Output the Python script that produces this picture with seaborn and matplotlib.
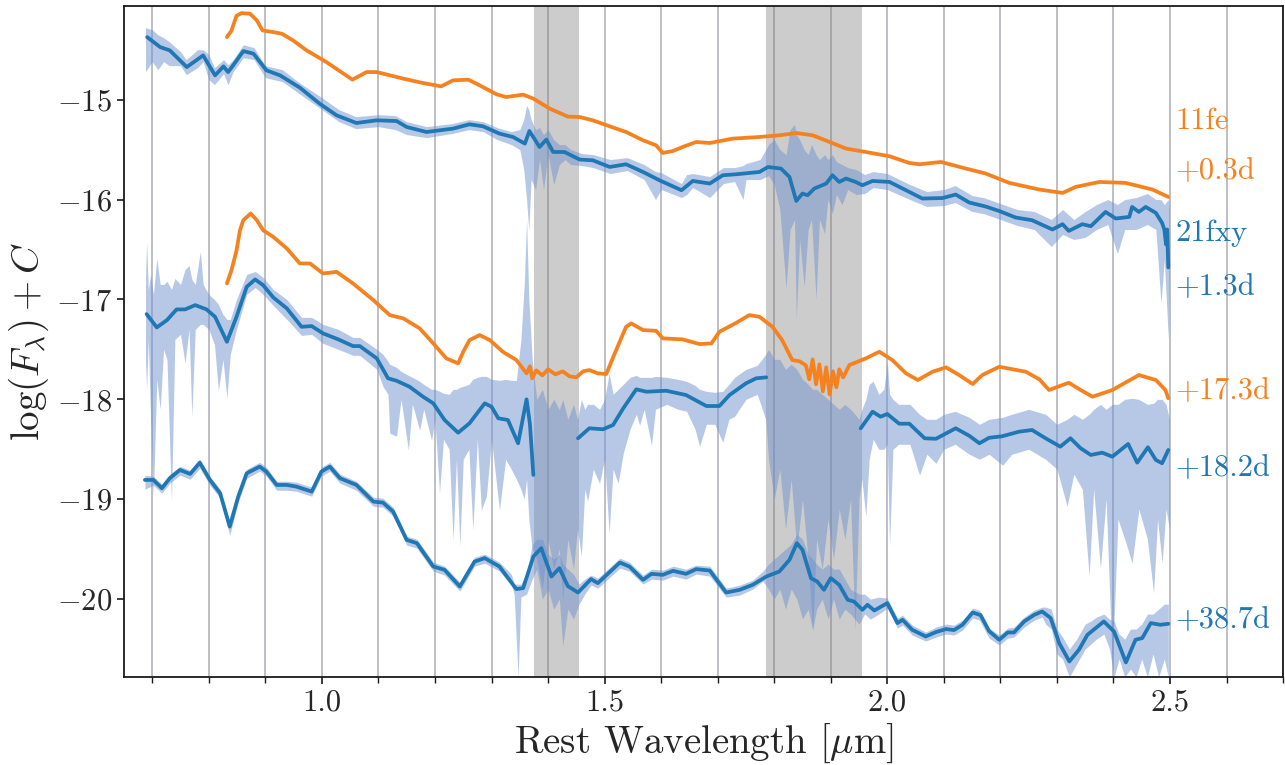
import numpy as np
import pandas as pd
import matplotlib
matplotlib.use("Agg")
import matplotlib.pyplot as plt
from matplotlib.ticker import MultipleLocator
import seaborn as sns

# ---------------- data ----------------
# 11fe +0.3d (orange, top): (wavelength [um], log flux + C)
fe_early = [(0.832,-14.374),(0.840,-14.31),(0.849,-14.16),(0.858,-14.134),(0.873,-14.14),(0.885,-14.207),
            (0.895,-14.307),(0.914,-14.324),(0.929,-14.34),(0.949,-14.407),(0.973,-14.507),(1.008,-14.624),
            (1.054,-14.80),(1.079,-14.724),(1.097,-14.724),(1.144,-14.79),(1.179,-14.834),(1.211,-14.867),
            (1.232,-14.807),(1.259,-14.80),(1.279,-14.857),(1.309,-14.947),(1.326,-14.974),(1.356,-14.95),
            (1.374,-14.99),(1.403,-15.09),(1.435,-15.17),(1.456,-15.174),(1.479,-15.207),(1.509,-15.267),
            (1.538,-15.324),(1.568,-15.407),(1.591,-15.457),(1.603,-15.534),(1.621,-15.514),(1.638,-15.474),
            (1.662,-15.424),(1.686,-15.434),(1.727,-15.39),(1.774,-15.374),(1.809,-15.357),(1.839,-15.334),
            (1.868,-15.357),(1.898,-15.424),(1.927,-15.49),(1.962,-15.524),(2.004,-15.567),(2.039,-15.634),
            (2.057,-15.647),(2.095,-15.624),(2.139,-15.69),(2.174,-15.74),(2.216,-15.834),(2.269,-15.90),
            (2.310,-15.934),(2.333,-15.874),(2.375,-15.824),(2.422,-15.834),(2.469,-15.90),(2.497,-15.974)]

# 11fe +17.3d (orange, middle)
fe_late = [(0.832,-16.84),(0.840,-16.71),(0.849,-16.51),(0.855,-16.31),(0.861,-16.207),(0.874,-16.14),
           (0.885,-16.207),(0.896,-16.307),(0.914,-16.374),(0.938,-16.49),(0.961,-16.64),(0.979,-16.64),
           (1.002,-16.74),(1.026,-16.724),(1.055,-16.84),(1.091,-17.007),(1.120,-17.157),(1.144,-17.19),
           (1.173,-17.29),(1.197,-17.44),(1.220,-17.59),(1.241,-17.64),(1.250,-17.524),(1.261,-17.407),
           (1.279,-17.357),(1.297,-17.407),(1.320,-17.524),(1.344,-17.607),(1.362,-17.74),(1.368,-17.67),
           (1.372,-17.79),(1.379,-17.71),(1.390,-17.76),(1.400,-17.70),(1.413,-17.75),(1.426,-17.72),
           (1.438,-17.77),(1.450,-17.78),(1.462,-17.72),(1.473,-17.707),(1.488,-17.74),(1.503,-17.747),
           (1.518,-17.54),(1.538,-17.274),(1.547,-17.24),(1.568,-17.307),(1.591,-17.314),(1.603,-17.39),
           (1.638,-17.40),(1.668,-17.447),(1.689,-17.44),(1.703,-17.324),(1.733,-17.234),(1.756,-17.157),
           (1.774,-17.174),(1.797,-17.274),(1.814,-17.407),(1.832,-17.607),(1.845,-17.62),(1.856,-17.66),
           (1.862,-17.80),(1.868,-17.60),(1.874,-17.85),(1.880,-17.65),(1.886,-17.92),(1.892,-17.68),
           (1.898,-17.95),(1.904,-17.72),(1.910,-17.88),(1.915,-17.70),(1.922,-17.78),(1.933,-17.657),
           (1.962,-17.59),(1.986,-17.524),(2.009,-17.607),(2.033,-17.74),(2.054,-17.807),(2.080,-17.724),
           (2.104,-17.68),(2.127,-17.757),(2.151,-17.847),(2.168,-17.757),(2.198,-17.674),(2.245,-17.724),
           (2.269,-17.80),(2.286,-17.907),(2.321,-17.834),(2.342,-17.907),(2.363,-17.974),(2.398,-17.907),
           (2.445,-17.757),(2.475,-17.807),(2.492,-17.907),(2.497,-17.99)]

# 21fxy +1.3d smoothed (dark blue, top)
fxy_1 = [(0.691,-14.374),(0.714,-14.474),(0.731,-14.507),(0.761,-14.674),(0.790,-14.557),(0.811,-14.757),
         (0.826,-14.667),(0.834,-14.724),(0.843,-14.657),(0.861,-14.514),(0.879,-14.54),(0.902,-14.707),
         (0.926,-14.757),(0.961,-14.88),(0.996,-15.04),(1.026,-15.157),(1.061,-15.234),(1.097,-15.207),
         (1.132,-15.214),(1.150,-15.274),(1.185,-15.324),(1.232,-15.29),(1.261,-15.247),(1.285,-15.267),
         (1.314,-15.34),(1.338,-15.374),(1.359,-15.44),(1.367,-15.314),(1.385,-15.474),(1.397,-15.40),
         (1.409,-15.524),(1.429,-15.524),(1.456,-15.60),(1.479,-15.607),(1.509,-15.674),(1.538,-15.647),
         (1.568,-15.724),(1.597,-15.807),(1.636,-15.907),(1.656,-15.814),(1.686,-15.84),(1.709,-15.757),
         (1.733,-15.747),(1.774,-15.724),(1.789,-15.674),(1.812,-15.69),(1.827,-15.774),(1.839,-16.014),
         (1.850,-15.94),(1.859,-15.957),(1.871,-15.89),(1.892,-15.84),(1.903,-15.757),(1.915,-15.824),
         (1.927,-15.79),(1.944,-15.824),(1.956,-15.857),(1.974,-15.814),(2.004,-15.824),(2.039,-15.924),
         (2.062,-15.99),(2.098,-15.985),(2.121,-15.95),(2.145,-16.03),(2.174,-16.07),(2.198,-16.115),
         (2.227,-16.18),(2.256,-16.207),(2.292,-16.30),(2.310,-16.247),(2.321,-16.314),(2.345,-16.247),
         (2.360,-16.267),(2.386,-16.124),(2.404,-16.19),(2.428,-16.174),(2.433,-16.074),(2.445,-16.124),
         (2.457,-16.074),(2.475,-16.134),(2.486,-16.234),(2.490,-16.30),(2.493,-16.45),(2.495,-16.30),
         (2.497,-16.68)]

# 21fxy +18.2d smoothed (three pieces, gaps in the telluric bands)
fxy_18_a = [(0.690,-17.147),(0.708,-17.28),(0.726,-17.207),(0.743,-17.10),(0.758,-17.10),(0.776,-17.057),
            (0.796,-17.10),(0.811,-17.174),(0.832,-17.424),(0.849,-17.174),(0.867,-16.874),(0.882,-16.80),
            (0.896,-16.857),(0.914,-16.98),(0.938,-17.09),(0.964,-17.274),(0.982,-17.267),(1.002,-17.34),
            (1.029,-17.40),(1.055,-17.467),(1.067,-17.467),(1.097,-17.59),(1.117,-17.79),(1.132,-17.814),
            (1.155,-17.874),(1.179,-17.974),(1.197,-18.04),(1.217,-18.207),(1.241,-18.334),(1.261,-18.24),
            (1.288,-18.04),(1.300,-18.074),(1.312,-18.19),(1.329,-18.207),(1.347,-18.44),(1.362,-18.0),
            (1.368,-18.25),(1.374,-18.757)]
fxy_18_b = [(1.453,-18.39),(1.473,-18.29),(1.497,-18.30),(1.515,-18.257),(1.533,-18.09),(1.556,-17.90),
            (1.574,-17.924),(1.609,-17.914),(1.644,-17.957),(1.680,-18.067),(1.703,-18.067),(1.721,-17.957),
            (1.750,-17.84),(1.768,-17.79),(1.786,-17.78)]
fxy_18_c = [(1.953,-18.29),(1.974,-18.124),(1.988,-18.174),(2.000,-18.147),(2.021,-18.244),(2.039,-18.244),
            (2.066,-18.39),(2.086,-18.395),(2.121,-18.29),(2.145,-18.365),(2.163,-18.44),(2.180,-18.385),
            (2.203,-18.37),(2.233,-18.324),(2.256,-18.307),(2.280,-18.39),(2.306,-18.474),(2.324,-18.39),
            (2.342,-18.49),(2.360,-18.557),(2.380,-18.534),(2.398,-18.574),(2.426,-18.447),(2.442,-18.634),
            (2.461,-18.48),(2.475,-18.607),(2.486,-18.64),(2.497,-18.507)]

# 21fxy +38.7d smoothed
fxy_38 = [(0.687,-18.807),(0.702,-18.807),(0.717,-18.89),(0.731,-18.79),(0.749,-18.707),(0.767,-18.747),
          (0.784,-18.634),(0.802,-18.807),(0.820,-18.94),(0.837,-19.274),(0.852,-18.974),(0.867,-18.74),
          (0.890,-18.674),(0.902,-18.724),(0.920,-18.857),(0.938,-18.857),(0.955,-18.874),(0.982,-18.924),
          (0.999,-18.724),(1.014,-18.674),(1.032,-18.79),(1.061,-18.857),(1.091,-19.024),(1.108,-19.034),
          (1.126,-19.124),(1.150,-19.407),(1.168,-19.44),(1.197,-19.674),(1.217,-19.707),(1.244,-19.874),
          (1.270,-19.624),(1.288,-19.59),(1.314,-19.674),(1.344,-19.90),(1.356,-19.89),(1.374,-19.574),
          (1.388,-19.49),(1.406,-19.774),(1.420,-19.69),(1.435,-19.87),(1.453,-19.934),(1.476,-19.80),
          (1.488,-19.84),(1.527,-19.634),(1.544,-19.674),(1.568,-19.807),(1.583,-19.747),(1.603,-19.757),
          (1.621,-19.717),(1.644,-19.747),(1.662,-19.70),(1.686,-19.714),(1.715,-19.934),(1.739,-19.907),
          (1.762,-19.857),(1.786,-19.774),(1.809,-19.724),(1.827,-19.607),(1.840,-19.44),(1.850,-19.507),
          (1.865,-19.79),(1.876,-19.824),(1.888,-19.907),(1.900,-19.79),(1.915,-19.857),(1.930,-20.007),
          (1.941,-20.024),(1.956,-20.107),(1.965,-20.057),(1.977,-20.114),(2.000,-20.04),(2.018,-20.24),
          (2.027,-20.207),(2.044,-20.307),(2.068,-20.374),(2.086,-20.33),(2.104,-20.30),(2.118,-20.31),
          (2.133,-20.257),(2.151,-20.134),(2.165,-20.16),(2.180,-20.32),(2.198,-20.407),(2.213,-20.334),
          (2.224,-20.334),(2.242,-20.224),(2.260,-20.157),(2.274,-20.124),(2.289,-20.19),(2.304,-20.44),
          (2.322,-20.624),(2.339,-20.507),(2.354,-20.357),(2.383,-20.224),(2.401,-20.324),(2.422,-20.634),
          (2.439,-20.407),(2.451,-20.39),(2.466,-20.24),(2.483,-20.257),(2.497,-20.247)]

# raw-spectrum envelopes (wavelength, lower, upper)
raw_1 = [(0.688,-14.72,-14.28),(0.70,-14.62,-14.30),(0.71,-14.70,-14.35),(0.72,-14.62,-14.38),
         (0.73,-14.66,-14.42),(0.75,-14.66,-14.52),(0.76,-14.75,-14.60),(0.78,-14.68,-14.50),
         (0.79,-14.62,-14.50),(0.80,-14.80,-14.55),(0.81,-14.85,-14.68),(0.826,-14.74,-14.60),
         (0.834,-14.85,-14.65),(0.843,-14.72,-14.60),(0.861,-14.58,-14.45),(0.88,-14.60,-14.48),
         (0.90,-14.78,-14.66),(0.93,-14.82,-14.70),(0.96,-14.94,-14.83),(1.00,-15.10,-14.98),
         (1.03,-15.22,-15.10),(1.06,-15.29,-15.17),(1.10,-15.27,-15.15),(1.13,-15.30,-15.16),
         (1.15,-15.35,-15.22),(1.185,-15.38,-15.27),(1.23,-15.34,-15.24),(1.26,-15.30,-15.20),
         (1.285,-15.32,-15.22),(1.31,-15.40,-15.28),(1.335,-15.45,-15.32),(1.35,-15.50,-15.30),
         (1.357,-15.70,-15.20),(1.362,-16.00,-15.06),(1.366,-16.31,-15.10),(1.370,-15.80,-15.20),
         (1.378,-15.90,-15.30),(1.385,-15.60,-15.28),(1.392,-15.90,-15.35),(1.40,-15.55,-15.30),
         (1.41,-15.85,-15.40),(1.42,-15.65,-15.45),(1.43,-15.60,-15.45),(1.44,-15.65,-15.50),
         (1.46,-15.66,-15.54),(1.48,-15.68,-15.55),(1.51,-15.74,-15.60),(1.54,-15.71,-15.58),
         (1.57,-15.80,-15.65),(1.59,-16.00,-15.72),(1.60,-15.90,-15.73),(1.636,-15.98,-15.84),
         (1.645,-15.95,-15.75),(1.656,-15.88,-15.74),(1.686,-15.98,-15.77),(1.71,-15.84,-15.68),
         (1.73,-15.82,-15.68),(1.745,-16.00,-15.66),(1.75,-15.80,-15.64),(1.775,-15.80,-15.60),
         (1.79,-15.76,-15.45),(1.80,-15.85,-15.40),(1.81,-16.10,-15.50),(1.821,-16.89,-15.55),
         (1.828,-16.30,-15.30),(1.836,-16.20,-15.25),(1.839,-17.20,-15.35),(1.845,-16.40,-15.40),
         (1.853,-16.87,-15.50),(1.86,-16.30,-15.55),(1.866,-16.20,-15.45),(1.874,-17.00,-15.55),
         (1.88,-16.20,-15.60),(1.889,-16.34,-15.55),(1.895,-16.00,-15.60),(1.903,-16.14,-15.55),
         (1.91,-15.95,-15.62),(1.92,-16.05,-15.65),(1.93,-15.90,-15.68),(1.945,-15.95,-15.70),
         (1.96,-15.94,-15.75),(1.975,-15.88,-15.72),(2.00,-15.90,-15.74),(2.04,-16.00,-15.85),
         (2.07,-16.07,-15.92),(2.10,-16.06,-15.90),(2.12,-16.03,-15.86),(2.15,-16.12,-15.96),
         (2.17,-16.14,-15.98),(2.20,-16.20,-16.04),(2.23,-16.26,-16.10),(2.26,-16.30,-16.12),
         (2.29,-16.47,-16.20),(2.31,-16.35,-16.10),(2.33,-16.40,-16.20),(2.35,-16.38,-16.12),
         (2.37,-16.30,-16.05),(2.39,-16.25,-16.00),(2.407,-16.54,-16.05),(2.42,-16.30,-16.00),
         (2.44,-16.30,-15.98),(2.46,-16.25,-15.94),(2.475,-16.30,-16.00),(2.484,-17.04,-16.00),
         (2.49,-16.60,-16.05),(2.497,-17.40,-16.00),(2.499,-16.60,-16.10)]

raw_18 = [(0.688,-17.60,-16.80),(0.690,-17.90,-16.42),(0.693,-17.40,-16.90),(0.697,-18.19,-16.75),
          (0.702,-18.97,-16.95),(0.708,-17.80,-16.59),(0.714,-18.10,-16.85),(0.72,-17.50,-16.85),
          (0.726,-17.60,-16.82),(0.734,-19.02,-16.90),(0.74,-17.40,-16.79),(0.75,-17.35,-16.85),
          (0.758,-17.64,-16.70),(0.765,-17.30,-16.66),(0.77,-18.17,-16.80),(0.776,-17.30,-16.85),
          (0.785,-17.25,-16.52),(0.79,-17.25,-16.85),(0.80,-17.30,-16.95),(0.81,-17.45,-17.00),
          (0.817,-17.91,-17.05),(0.825,-17.60,-17.15),(0.832,-17.99,-17.20),(0.838,-17.55,-17.20),
          (0.849,-17.30,-17.00),(0.867,-16.95,-16.75),(0.882,-16.88,-16.72),(0.896,-16.95,-16.78),
          (0.914,-17.06,-16.90),(0.938,-17.20,-17.00),(0.964,-17.36,-17.18),(0.982,-17.35,-17.18),
          (1.002,-17.44,-17.25),(1.029,-17.50,-17.30),(1.055,-17.56,-17.38),(1.067,-17.56,-17.38),
          (1.097,-17.70,-17.50),(1.108,-17.87,-17.55),(1.117,-17.95,-17.62),(1.120,-18.34,-17.65),
          (1.132,-18.37,-17.68),(1.14,-18.00,-17.72),(1.153,-18.51,-17.76),(1.16,-18.05,-17.78),
          (1.173,-18.31,-17.82),(1.18,-18.10,-17.85),(1.194,-18.41,-17.90),(1.20,-18.20,-17.90),
          (1.208,-18.94,-17.92),(1.215,-18.40,-17.94),(1.225,-18.50,-17.95),(1.232,-19.41,-17.90),
          (1.238,-18.60,-17.90),(1.244,-19.47,-17.88),(1.25,-18.60,-17.87),(1.26,-18.50,-17.85),
          (1.267,-19.31,-17.80),(1.275,-18.40,-17.78),(1.282,-19.11,-17.77),(1.291,-18.97,-17.77),
          (1.30,-18.40,-17.80),(1.314,-19.11,-17.81),(1.325,-18.60,-17.80),(1.335,-18.70,-17.81),
          (1.344,-18.80,-17.81),(1.352,-18.90,-17.40),(1.358,-19.00,-16.84),(1.362,-18.80,-16.20),
          (1.366,-19.20,-17.00),(1.372,-19.50,-17.60),(1.38,-19.60,-18.00),(1.39,-19.90,-17.90),
          (1.40,-19.40,-18.10),(1.41,-19.70,-18.00),(1.42,-19.50,-18.10),(1.426,-20.00,-18.00),
          (1.435,-19.40,-18.20),(1.445,-19.70,-18.05),(1.452,-19.30,-18.20),(1.459,-19.57,-18.00),
          (1.465,-18.90,-18.10),(1.470,-19.02,-18.05),(1.48,-18.70,-18.05),(1.491,-18.84,-18.10),
          (1.50,-18.60,-18.00),(1.508,-19.34,-17.74),(1.515,-18.70,-17.95),(1.524,-18.84,-17.90),
          (1.533,-18.54,-17.85),(1.545,-18.30,-17.78),(1.556,-18.15,-17.76),(1.562,-18.26,-17.78),
          (1.57,-18.10,-17.78),(1.583,-18.46,-17.78),(1.59,-18.10,-17.77),(1.61,-18.05,-17.78),
          (1.63,-18.10,-17.80),(1.645,-18.12,-17.82),(1.66,-18.30,-17.86),(1.668,-18.47,-17.90),
          (1.68,-18.25,-17.92),(1.695,-18.25,-17.93),(1.709,-18.43,-17.92),(1.72,-18.20,-17.85),
          (1.730,-18.17,-17.78),(1.75,-18.00,-17.70),(1.77,-17.95,-17.66),(1.785,-18.20,-17.55),
          (1.79,-18.60,-17.50),(1.80,-19.00,-17.60),(1.81,-18.70,-17.60),(1.82,-19.30,-17.70),
          (1.83,-18.80,-17.65),(1.84,-19.50,-17.70),(1.85,-19.00,-17.80),(1.86,-19.60,-17.85),
          (1.868,-20.31,-17.90),(1.875,-19.40,-17.90),(1.885,-19.70,-17.95),(1.895,-19.20,-18.00),
          (1.905,-19.60,-18.05),(1.915,-19.10,-18.10),(1.925,-19.40,-18.05),(1.935,-19.00,-18.10),
          (1.943,-20.31,-18.15),(1.95,-19.00,-18.20),(1.955,-18.80,-18.10),(1.962,-19.17,-18.00),
          (1.968,-18.60,-17.85),(1.975,-18.40,-17.82),(1.985,-18.50,-17.95),(1.994,-18.50,-17.90),
          (2.000,-18.45,-17.62),(2.004,-19.47,-17.95),(2.01,-18.50,-18.00),(2.02,-18.45,-18.05),
          (2.04,-18.45,-18.05),(2.057,-18.76,-18.15),(2.07,-18.55,-18.20),(2.086,-18.64,-18.20),
          (2.10,-18.50,-18.15),(2.12,-18.45,-18.12),(2.145,-18.55,-18.18),(2.163,-18.60,-18.25),
          (2.18,-18.55,-18.20),(2.204,-18.66,-18.18),(2.22,-18.55,-18.15),(2.25,-18.50,-18.10),
          (2.28,-18.60,-18.15),(2.30,-18.70,-18.25),(2.318,-19.07,-18.20),(2.33,-18.75,-18.15),
          (2.345,-18.90,-18.20),(2.357,-19.77,-18.15),(2.365,-18.90,-18.10),(2.377,-19.69,-18.05),
          (2.387,-19.00,-18.10),(2.398,-20.67,-18.05),(2.408,-19.20,-18.05),(2.42,-19.40,-18.00),
          (2.433,-19.64,-17.99),(2.445,-19.10,-18.00),(2.46,-19.40,-18.05),(2.471,-19.94,-18.04),
          (2.478,-19.20,-18.00),(2.486,-19.64,-18.00),(2.493,-19.10,-18.05),(2.499,-19.30,-18.20)]

raw_38 = [(0.687,-18.90,-18.76),(0.702,-18.86,-18.77),(0.717,-18.94,-18.85),(0.731,-18.84,-18.75),
          (0.749,-18.76,-18.67),(0.767,-18.80,-18.71),(0.784,-18.69,-18.60),(0.802,-18.86,-18.77),
          (0.820,-18.99,-18.90),(0.837,-19.36,-19.23),(0.852,-19.03,-18.93),(0.867,-18.79,-18.70),
          (0.890,-18.72,-18.63),(0.902,-18.77,-18.68),(0.920,-18.91,-18.82),(0.938,-18.91,-18.82),
          (0.955,-18.92,-18.83),(0.982,-18.97,-18.88),(0.999,-18.77,-18.68),(1.014,-18.72,-18.63),
          (1.032,-18.84,-18.75),(1.061,-18.91,-18.82),(1.091,-19.07,-18.98),(1.108,-19.08,-18.99),
          (1.126,-19.17,-19.08),(1.150,-19.46,-19.37),(1.168,-19.49,-19.40),(1.197,-19.72,-19.63),
          (1.217,-19.76,-19.67),(1.244,-19.92,-19.83),(1.270,-19.67,-19.58),(1.288,-19.64,-19.55),
          (1.314,-19.72,-19.63),(1.335,-19.86,-19.75),(1.340,-19.95,-19.85),(1.347,-20.78,-19.85),
          (1.352,-19.98,-19.85),(1.362,-19.95,-19.75),(1.372,-19.80,-19.45),(1.38,-19.70,-19.40),
          (1.39,-20.00,-19.40),(1.40,-19.90,-19.55),(1.41,-20.10,-19.60),(1.42,-20.00,-19.55),
          (1.426,-20.47,-19.65),(1.435,-20.10,-19.70),(1.445,-20.20,-19.75),(1.455,-20.05,-19.85),
          (1.465,-19.95,-19.80),(1.476,-19.86,-19.76),(1.488,-19.89,-19.79),(1.527,-19.69,-19.59),
          (1.544,-19.72,-19.63),(1.568,-19.85,-19.76),(1.583,-19.80,-19.70),(1.603,-19.81,-19.71),
          (1.621,-19.77,-19.67),(1.644,-19.80,-19.70),(1.662,-19.75,-19.66),(1.686,-19.77,-19.67),
          (1.715,-19.98,-19.89),(1.739,-19.96,-19.86),(1.762,-19.90,-19.81),(1.78,-19.82,-19.72),
          (1.79,-19.90,-19.65),(1.80,-20.00,-19.60),(1.81,-19.90,-19.55),(1.82,-20.10,-19.50),
          (1.83,-19.90,-19.45),(1.84,-20.00,-19.35),(1.85,-20.20,-19.40),(1.86,-20.10,-19.55),
          (1.868,-20.31,-19.60),(1.875,-20.10,-19.65),(1.885,-20.00,-19.70),(1.895,-20.20,-19.65),
          (1.905,-20.00,-19.70),(1.915,-20.20,-19.70),(1.925,-20.10,-19.80),(1.935,-20.15,-19.90),
          (1.95,-20.25,-19.95),(1.96,-20.15,-19.95),(1.97,-20.20,-20.00),(1.985,-20.15,-19.98),
          (2.000,-20.09,-19.99),(2.018,-20.29,-20.19),(2.027,-20.26,-20.16),(2.044,-20.36,-20.26),
          (2.068,-20.42,-20.33),(2.086,-20.38,-20.28),(2.104,-20.35,-20.25),(2.118,-20.36,-20.26),
          (2.133,-20.31,-20.21),(2.151,-20.19,-20.09),(2.163,-20.21,-20.11),(2.180,-20.39,-20.29),
          (2.198,-20.46,-20.36),(2.213,-20.39,-20.29),(2.224,-20.38,-20.28),(2.242,-20.28,-20.18),
          (2.260,-20.21,-20.11),(2.274,-20.18,-20.08),(2.28,-20.25,-20.08),(2.29,-20.30,-20.10),
          (2.30,-20.55,-20.30),(2.31,-20.60,-20.38),(2.322,-20.78,-20.50),(2.335,-20.65,-20.40),
          (2.35,-20.50,-20.25),(2.36,-20.45,-20.22),(2.37,-20.40,-20.18),(2.383,-20.35,-20.15),
          (2.393,-20.50,-20.20),(2.401,-20.78,-20.22),(2.41,-20.60,-20.35),(2.42,-20.78,-20.40),
          (2.43,-20.70,-20.30),(2.44,-20.78,-20.30),(2.45,-20.60,-20.25),(2.46,-20.78,-20.15),
          (2.47,-20.55,-20.15),(2.48,-20.78,-20.10),(2.49,-20.60,-20.05),(2.497,-20.78,-20.05)]

telluric_bands = [(1.375, 1.455), (1.785, 1.955)]

labels = [("11fe", -15.22, "orange"), ("+0.3d", -15.72, "orange"),
          ("21fxy", -16.34, "blue"), ("+1.3d", -16.88, "blue"),
          ("+17.3d", -17.92, "orange"), ("+18.2d", -18.69, "blue"),
          ("+38.7d", -20.21, "blue")]

x_ticks = [1.0, 1.5, 2.0, 2.5]
y_ticks = [-15, -16, -17, -18, -19, -20]

# ---------------- style ----------------
sns.set_theme(style="ticks")
plt.rcParams.update({
    "font.family": "serif",
    "font.serif": ["cmr10"],
    "mathtext.fontset": "cm",
    "axes.formatter.use_mathtext": True,
    "axes.unicode_minus": True,
})

ORANGE = "#f6811f"
BLUE = "#1f77b4"
LIGHT = "#6f93cf"
cmap = {"orange": ORANGE, "blue": BLUE}

fig = plt.figure(figsize=(12.85, 7.65), dpi=100)
ax = fig.add_axes([0.0965, 0.115, 0.902, 0.8775])


def frame(pairs):
    return pd.DataFrame(pairs, columns=["wl", "flux"])


def env(triples):
    return pd.DataFrame(triples, columns=["wl", "lo", "hi"])


for lo, hi in telluric_bands:
    ax.axvspan(lo, hi, color="gray", alpha=0.4, lw=0, zorder=1)

for raw in (raw_1, raw_18, raw_38):
    e = env(raw)
    ax.fill_between(e["wl"], e["lo"], e["hi"], color=LIGHT, alpha=0.5, lw=0, zorder=2)

line_kw = dict(sort=False, estimator=None, lw=2.7, ax=ax,
               solid_joinstyle="round", solid_capstyle="round")

for series in (fe_early, fe_late):
    d = frame(series)
    sns.lineplot(data=d, x="wl", y="flux", color=ORANGE, zorder=3, **line_kw)

for series in (fxy_1, fxy_18_a, fxy_18_b, fxy_18_c, fxy_38):
    d = frame(series)
    sns.lineplot(data=d, x="wl", y="flux", color=BLUE, zorder=4, **line_kw)

for text, yv, c in labels:
    ax.text(2.509, yv, text, color=cmap[c], fontsize=22, ha="left", va="center")

ax.set_xlim(0.65, 2.70)
ax.set_ylim(-20.78, -14.06)
ax.set_xticks(x_ticks)
ax.set_yticks(y_ticks)
ax.xaxis.set_major_formatter(matplotlib.ticker.FormatStrFormatter("%.1f"))
ax.xaxis.set_minor_locator(MultipleLocator(0.1))
ax.set_axisbelow(True)
ax.grid(True, axis="x", which="both", color="#b9b9c1", lw=1.3)
ax.grid(False, axis="y")
ax.tick_params(axis="both", which="major", labelsize=22, length=5, width=1.2, color="k")
ax.tick_params(axis="x", which="minor", length=4, width=1.0, color="k")
for s in ax.spines.values():
    s.set_color("k")
    s.set_linewidth(1.3)

ax.set_xlabel(r"Rest Wavelength [$\mu$m]", fontsize=28)
ax.set_ylabel(r"$\log(F_\lambda) + C$", fontsize=28)

fig.savefig("out.png", dpi=100)
